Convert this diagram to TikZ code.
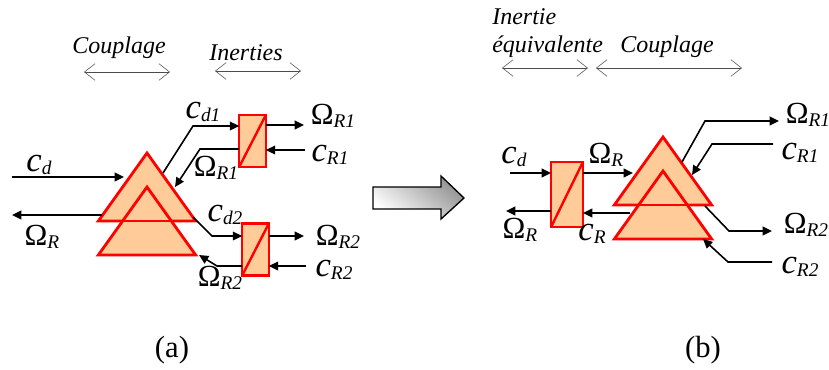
\documentclass[tikz,border=0pt]{standalone}
\usepackage{fontspec}
\setmainfont{Liberation Serif}
\usetikzlibrary{shapes.geometric, arrows.meta, positioning, calc}
\definecolor{gearfill}{RGB}{255,204,153}
\newcommand{\omg}[1]{{\fontsize{23}{23}\selectfont Ω}{\fontsize{14.5}{15}\selectfont\itshape\raisebox{-0.35ex}{#1}}}
\newcommand{\cpl}[1]{{\fontsize{26}{26}\selectfont\itshape c}{\fontsize{14.5}{15}\selectfont\itshape\raisebox{-0.35ex}{#1}}}

\begin{document}
\begin{tikzpicture}[x=0.75pt, y=-0.75pt,
    gear/.style={isosceles triangle, shape border rotate=90, isosceles triangle stretches,
                 draw=red, line width=2.1pt, fill=gearfill, inner sep=0pt, outer sep=0pt,
                 minimum width=73pt, minimum height=51pt, anchor=apex},
    inert/.style={rectangle, draw=red, line width=1.8pt, fill=gearfill, inner sep=0pt, outer sep=0pt},
    msg/.style={-{Triangle[length=7pt,width=6.5pt]}, line width=1.2pt, black},
    span/.style={{Straight Barb[length=8pt,width=12.5pt]}-{Straight Barb[length=8pt,width=12.5pt]}, line width=0.4pt, black!70},
    lbl/.style={inner sep=0pt, font=\fontsize{18}{20}\selectfont\itshape},
    sig/.style={inner sep=0pt},
    captn/.style={inner sep=0pt, font=\fontsize{23}{26}\selectfont}]

\useasboundingbox (0,0) rectangle (829,369);

%% Left: (a)
\node[lbl] (tcoupa) at (119,48) {Couplage};
\node[lbl] (tinera) at (246,53) {Inerties};
\coordinate (spa1) at (84,72);  \coordinate (spa2) at (170,72);
\coordinate (spa3) at (215,71); \coordinate (spa4) at (301,71);
\draw[span] (spa1) -- (spa2);
\draw[span] (spa3) -- (spa4);

\node[gear] (gaa) at (147,153) {};
\node[gear] (gab) at (147,187) {};
\draw[red, line width=2.1pt] (gaa.left corner) -- (gaa.right corner);

\node[inert, minimum width=20pt, minimum height=39pt] (ia) at (252.5,141) {};
\node[inert, minimum width=20pt, minimum height=39pt] (ib) at (255.5,249.5) {};
\draw[red, line width=1.8pt] (ia.south west) -- (ia.north east);
\draw[red, line width=1.8pt] (ib.south west) -- (ib.north east);

\coordinate (ain) at (12,177);   \coordinate (ainb) at (124,177);
\coordinate (aou) at (102,215);  \coordinate (aoub) at (12,215);
\draw[msg] (ain) -- (ainb);
\draw[msg] (aou) -- (aoub);

\coordinate (d1a) at (163,173); \coordinate (d1b) at (193,126);
\draw[msg] (d1a) -- (d1b) -- (d1b -| ia.west);
\coordinate (r1a) at (200,149); \coordinate (r1b) at (175,187);
\draw[msg] (r1a -| ia.west) -- (r1a) -- (r1b);
\coordinate (o1) at (304,125);
\draw[msg] (o1 -| ia.east) -- (o1);
\coordinate (c1) at (305,150);
\draw[msg] (c1) -- (c1 -| ia.east);

\coordinate (d2a) at (193,217); \coordinate (d2b) at (212,236);
\draw[msg] (d2a) -- (d2b) -- (d2b -| ib.west);
\coordinate (r2a) at (217,266); \coordinate (r2b) at (199,255);
\draw[msg] (r2a -| ib.west) -- (r2a) -- (r2b);
\coordinate (o2) at (304,236);
\draw[msg] (o2 -| ib.east) -- (o2);
\coordinate (c2) at (306,266);
\draw[msg] (c2) -- (c2 -| ib.east);

\node[sig] (lcd)  at (39,165)  {\cpl{d}};
\node[sig] (lor)  at (42,237)  {\omg{R}};
\node[sig] (lcd1) at (203,112) {\cpl{d1}};
\node[sig] (lcd2) at (225,215) {\cpl{d2}};
\node[sig] (lo1)  at (333,116) {\omg{R1}};
\node[sig] (lc1)  at (330,155) {\cpl{R1}};
\node[sig] (lb1)  at (216,168) {\omg{R1}};
\node[sig] (lo2)  at (338,237) {\omg{R2}};
\node[sig] (lc2)  at (334,270) {\cpl{R2}};
\node[sig] (lb2)  at (220,278) {\omg{R2}};
\node[captn] (capa) at (172,350) {(a)};

%% Middle arrow
\shade[draw=black, line width=1pt, left color=white, middle color=gray!12, right color=gray!85, shading angle=140]
    (373,187) -- (441,187) -- (441,176) -- (464,198) -- (441,219) -- (441,209) -- (373,209) -- cycle;

%% Right: (b)
\node[lbl, anchor=west] (tine)  at (492,17) {Inertie};
\node[lbl, anchor=west] (tequ)  at (492,47) {équivalente};
\node[lbl] (tcoupb) at (667,47) {Couplage};
\coordinate (spb1) at (502,68); \coordinate (spb2) at (588,68);
\coordinate (spb3) at (596,68); \coordinate (spb4) at (742,68);
\draw[span] (spb1) -- (spb2);
\draw[span] (spb3) -- (spb4);

\node[gear] (gba) at (663,137) {};
\node[gear] (gbb) at (663,171) {};
\draw[red, line width=2.1pt] (gba.left corner) -- (gba.right corner);

\node[inert, minimum width=24pt, minimum height=49pt] (ic) at (567,194.5) {};
\draw[red, line width=1.8pt] (ic.south west) -- (ic.north east);

\coordinate (bin) at (510,173);  \draw[msg] (bin) -- (bin -| ic.west);
\coordinate (bo)  at (633,173);  \draw[msg] (bo -| ic.east) -- (bo);
\coordinate (bb)  at (630,213);  \draw[msg] (bb) -- (bb -| ic.east);
\coordinate (bl)  at (506,211);  \draw[msg] (bl -| ic.west) -- (bl);

\coordinate (e1a) at (682,162); \coordinate (e1b) at (705,121); \coordinate (e1c) at (779,121);
\draw[msg] (e1a) -- (e1b) -- (e1c);
\coordinate (f1a) at (773,144); \coordinate (f1b) at (712,144); \coordinate (f1c) at (692,175);
\draw[msg] (f1a) -- (f1b) -- (f1c);
\coordinate (e2a) at (705,206); \coordinate (e2b) at (729,231); \coordinate (e2c) at (772,231);
\draw[msg] (e2a) -- (e2b) -- (e2c);
\coordinate (f2a) at (772,262); \coordinate (f2b) at (728,262); \coordinate (f2c) at (703,239);
\draw[msg] (f2a) -- (f2b) -- (f2c);

\node[sig] (rcd) at (514,157) {\cpl{d}};
\node[sig] (ror) at (606,155) {\omg{R}};
\node[sig] (rol) at (520,230) {\omg{R}};
\node[sig] (rcr) at (592,234) {\cpl{R}};
\node[sig] (ro1) at (808,115) {\omg{R1}};
\node[sig] (rc1) at (800,153) {\cpl{R1}};
\node[sig] (ro2) at (806,225) {\omg{R2}};
\node[sig] (rc2) at (800,267) {\cpl{R2}};
\node[captn] (capb) at (703,350) {(b)};

\end{tikzpicture}
\end{document}
